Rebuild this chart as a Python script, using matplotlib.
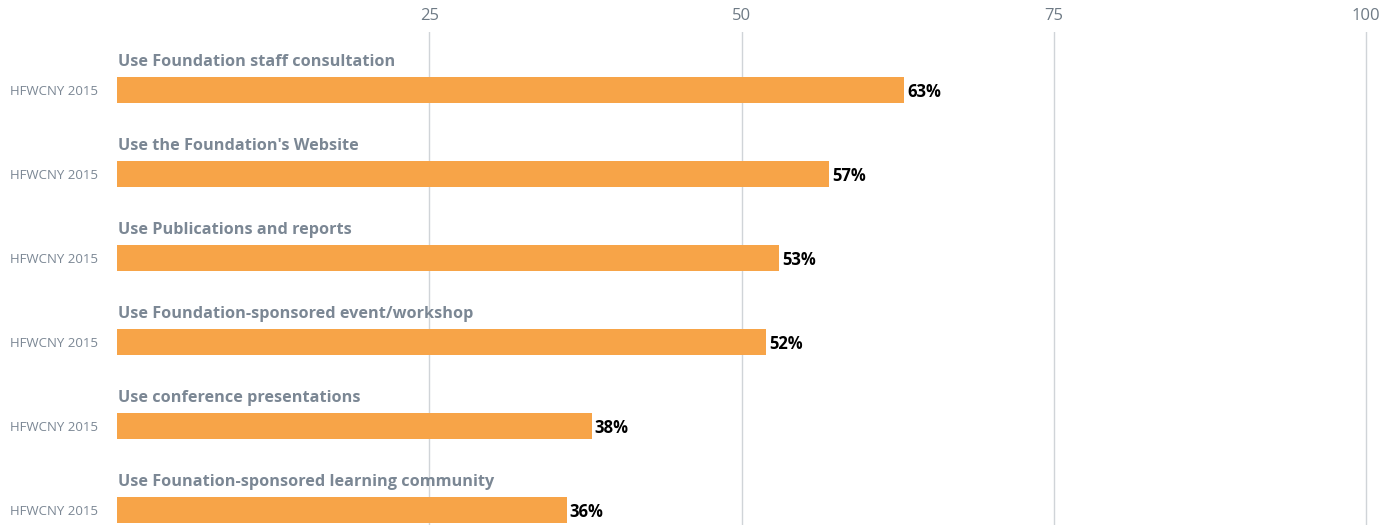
import numpy as np
import matplotlib.pyplot as plt

plt.rcParams['font.family'] = ['Open Sans', 'DejaVu Sans']

categories = [
    "Use Foundation staff consultation",
    "Use the Foundation's Website",
    "Use Publications and reports",
    "Use Foundation-sponsored event/workshop",
    "Use conference presentations",
    "Use Founation-sponsored learning community",
]
series_name = "HFWCNY 2015"
values = [63, 57, 53, 52, 38, 36]
ticks = [25, 50, 75, 100]

fig = plt.figure(figsize=(13.8, 5.25), dpi=100)
ax = fig.add_axes([117 / 1380, 0, (1368 - 117) / 1380, 1 - 32 / 525])

y = np.arange(len(values))
ax.barh(y, values, height=0.31, color='#F7A448', zorder=2)

for i, (cat, v) in enumerate(zip(categories, values)):
    ax.text(0.05, i - 0.335, cat, fontsize=11.7, fontweight='bold',
            color='#7B8794', va='center', ha='left')
    ax.text(v + 0.25, i + 0.02, f"{v}%", fontsize=12, fontweight='bold',
            color='black', va='center', ha='left')
    ax.text(-8.6, i + 0.02, series_name, fontsize=9.5, color='#7B8794',
            va='center', ha='left')

ax.set_xlim(0, 100.16)
ax.set_ylim(5.18, -0.69)
ax.set_xticks(ticks)
ax.xaxis.tick_top()
ax.tick_params(axis='x', length=0, pad=6, labelsize=12, labelcolor='#6E7A85')
ax.set_yticks([])
ax.grid(axis='x', color='#D0D4D8', linewidth=1, zorder=0)
for s in ax.spines.values():
    s.set_visible(False)

fig.savefig('out.png', dpi=100)
